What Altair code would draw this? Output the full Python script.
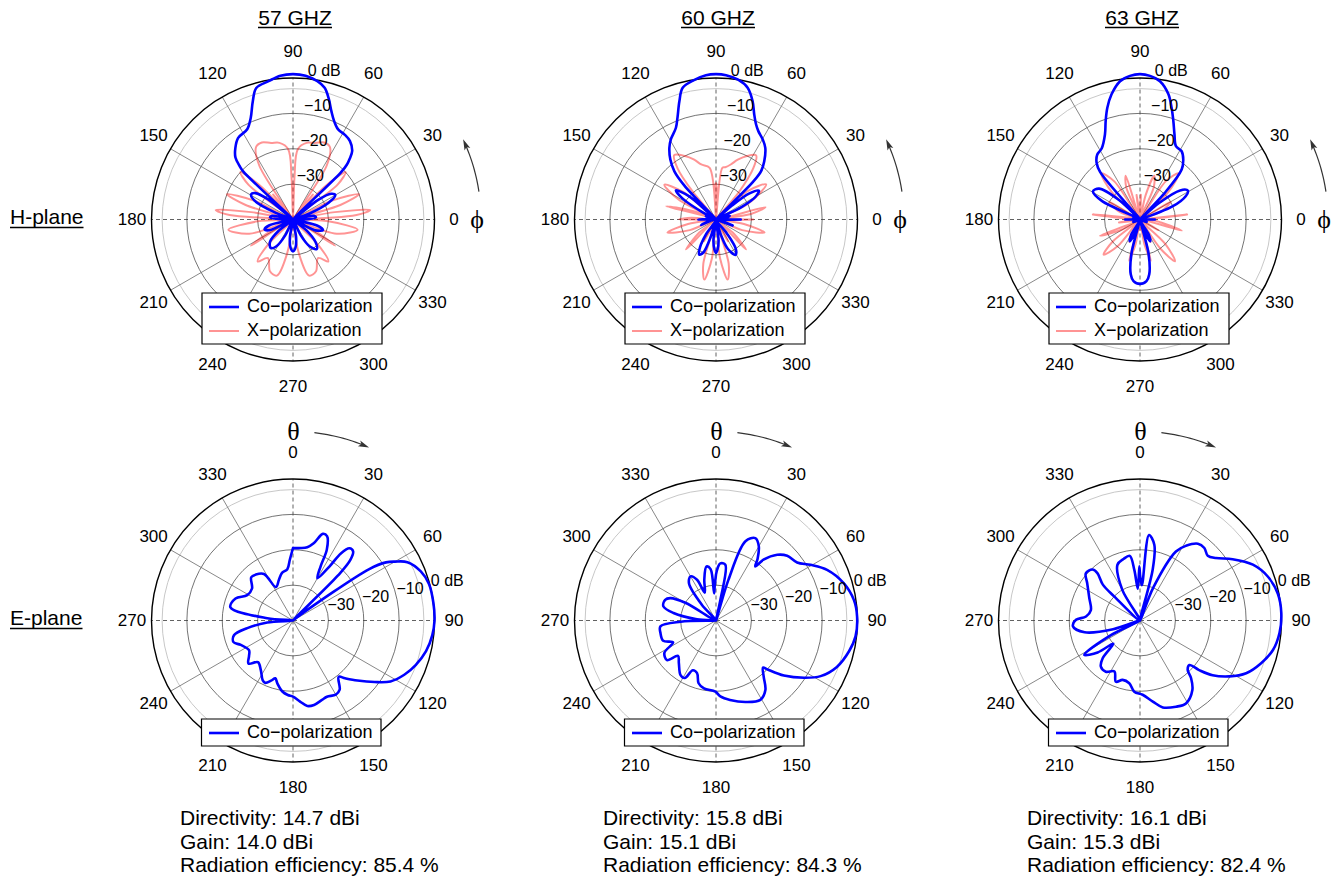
import altair as alt
import numpy as np
import pandas as pd

# ------------------------------------------------------------------
# Data
# ------------------------------------------------------------------
FREQS = ["57 GHZ", "60 GHZ", "63 GHZ"]
DIRECTIVITY = [14.7, 15.8, 16.1]   # dBi
GAIN = [14.0, 15.1, 15.3]          # dBi
EFFICIENCY = [85.4, 84.3, 82.4]    # %

ANGLE_TICKS = list(range(0, 360, 30))
RING_DB = [-30, -20, -10, 0]
RING_TEXT = ["\u221230", "\u221220", "\u221210", "0 dB"]
LEGEND_H = ["Co\u2212polarization", "X\u2212polarization"]
LEGEND_E = ["Co\u2212polarization"]

# H-plane: phi (deg, counter-clockwise, 0 at right), level (dB)
H57_CO_PHI = [0, 5, 10, 15, 20, 25, 30, 34, 38, 41.5, 44.5, 45.5, 47, 49.2, 54, 58.7, 63.4, 67.4, 70.5, 73.7,
              76.5, 80, 85, 90, 95, 100, 105.6, 108.7, 112.6, 116.9, 123.9, 128.8, 132.9, 135, 136, 138, 141, 145, 149, 154,
              159, 165, 170, 175, 180, 187, 194, 199.5, 205, 211, 218, 224, 231.8, 238, 244, 251, 260, 265, 270, 275,
              280, 289, 296, 302, 309, 315, 321, 328, 334, 340.5, 346, 353, 360]
H57_CO_DB = [-37, -33.5, -34, -40, -35, -29, -26.2, -27, -31, -40, -21, -18.3, -16.5, -14.4, -12.6, -11.9, -11.5, -9.8, -7.5, -4.2,
             -1.7, -0.3, 0.8, 1.1, 0.8, -0.3, -1.4, -4.6, -8.9, -11.4, -12.2, -14, -16.1, -18.7, -20.5, -40, -31, -27, -26.2, -28,
             -35, -40, -34, -33.5, -37, -40, -33, -31.5, -33, -40, -35, -31, -29.8, -31, -35, -40, -35, -32, -31, -32,
             -35, -40, -35, -31, -29.3, -31, -35, -40, -33, -31, -33, -40, -37]

H57_X_PHI = [0, 4, 7, 10, 13, 17, 21, 26, 31, 38, 42, 46, 49, 51.5, 54, 58, 63, 68, 74, 80, 86, 88, 90,
             92, 94, 100, 106, 112, 117, 122, 126, 128.5, 131, 134, 138, 142, 149, 154, 159, 163, 167, 170, 173, 176, 180,
             183, 189, 198, 203, 207, 212, 218, 225, 230, 237, 246, 254, 260, 265, 275, 280, 286, 294, 303, 310, 315,
             322, 328, 333, 337, 342, 351, 357, 360]
H57_X_DB = [-40, -22, -18, -28, -40, -26, -20, -28, -40, -24, -20, -27, -40, -31, -40, -22, -17, -16.5, -17.5, -18, -20, -28, -40,
            -28, -20, -18, -17.5, -16.5, -17, -22, -40, -31, -40, -27, -20, -24, -40, -28, -20, -26, -40, -28, -18, -22, -40,
            -30, -21.5, -27, -40, -33, -26, -40, -30, -24.5, -27, -24, -23.5, -30, -40, -40, -30, -23.5, -24, -27, -24.5, -30,
            -40, -26, -33, -40, -27, -21.5, -30, -40]

H60_CO_PHI = [0, 3, 9, 15, 20, 26, 30, 34, 38, 41, 43.5, 45.5, 47, 50.4, 55.5, 59.7, 64.4, 67.2, 70, 72.8,
              76.5, 81, 86, 90, 94, 99, 104.2, 107.2, 110.7, 113.6, 119.4, 123, 127.3, 130.8, 133, 135, 139, 144, 148, 152,
              156, 162, 168, 177, 180, 183, 193, 200, 206, 236, 240, 244.5, 249, 253, 257, 263, 267, 270, 273, 277,
              283, 288, 292, 299, 304, 308, 313, 340, 346, 357, 360]
H60_CO_DB = [-33, -40, -37, -36, -40, -32, -27, -25.4, -28, -34, -40, -25, -21.3, -18.6, -15.4, -13.8, -12.3, -10.8, -8.4, -5,
             -1.7, 0, 0.9, 1.1, 0.9, -0.1, -1.6, -5, -9.2, -11.7, -14, -15.8, -18.7, -22, -27, -40, -30, -26, -29, -36,
             -40, -37, -40, -38, -35, -40, -38, -35.5, -40, -35, -31, -29, -30, -35, -40, -34, -31.5, -30.6, -31.5, -34,
             -40, -35, -31, -28.6, -30, -35, -40, -35, -40, -40, -33]

H60_X_PHI = [0, 4, 9, 14, 19, 26, 35, 42, 46, 50, 54, 58, 64, 70, 75, 80, 83, 86, 88, 90, 92, 94, 97, 105, 110,
             116, 123, 127, 130, 134, 140, 146, 152, 156, 160, 165, 171, 176, 180, 184, 189, 195, 202, 212, 218,
             225, 235, 241, 248, 254, 259, 264, 270, 276, 281, 286, 292, 299, 305, 315, 322, 328, 338, 345, 351, 356, 360]
H60_X_DB = [-29.5, -40, -30, -25.6, -40, -30, -22.7, -28, -40, -30, -22, -18.6, -20, -22, -23.9, -25, -25.3, -40, -32, -29.7,
            -32, -40, -25.3, -23.9, -22, -20, -18.3, -22, -30, -40, -28, -22.4, -28, -40, -33, -25.4, -40, -33, -29.6, -40,
            -32, -25.8, -32, -40, -34, -28, -40, -33, -40, -27, -22.7, -29, -40, -29, -22.7, -27, -40, -33, -40, -28,
            -34, -40, -32, -25.8, -32, -40, -29.5]

H63_CO_PHI = [0, 3, 18, 22, 27, 31, 36, 41, 44, 47, 50.2, 54.2, 58.6, 63.9, 68, 71.3, 74.2, 77.2, 81.8, 86,
              90, 94, 98.2, 102.8, 106.3, 109.2, 112.4, 118.4, 123.3, 127.4, 130, 133, 137, 143, 149, 154, 159, 170, 177, 180,
              183, 200, 235, 240, 245, 250, 253, 256, 260.4, 264, 270, 276, 279.6, 284, 287, 290, 295, 300, 305, 340, 357, 360]
H63_CO_DB = [-35.8, -40, -40, -30, -25.5, -24.2, -26, -33, -40, -30, -21.6, -19.1, -17.4, -16.9, -14, -10.6, -7.2, -3.7, -0.5, 0.7,
             1.1, 0.7, -0.5, -3.7, -7.1, -10.5, -14, -17.2, -18, -19.8, -22.5, -40, -32, -25.5, -24.5, -28, -40, -38, -40, -35.8,
             -40, -38, -40, -35, -33.2, -36, -40, -30, -24.3, -22.5, -21.8, -22.5, -24.3, -30, -40, -36, -33.2, -35, -40, -38, -40, -35.8]

H63_X_PHI = [0, 6, 12, 20, 30, 38, 44, 50, 56, 60, 67, 72, 77, 82, 88, 92, 98, 103, 108, 113, 120, 124, 130, 136, 142,
             150, 160, 168, 174, 180, 188, 194, 202, 209, 214, 219, 224, 230, 236, 245, 250, 255, 260, 265, 270,
             275, 280, 285, 290, 295, 300, 305, 310, 316, 322, 330, 337, 345, 352, 356, 360]
H63_X_DB = [-40, -26.6, -40, -34, -30, -40, -29, -23, -27, -40, -30, -27, -33, -40, -33, -40, -33, -40, -27, -30, -40, -27, -23, -29, -40,
            -30, -34, -40, -26.6, -40, -34, -40, -27.8, -34, -40, -30, -25.7, -30, -40, -33, -40, -28, -33, -40, -37,
            -40, -33, -28, -40, -33, -40, -30, -24.6, -30, -40, -34, -40, -27.8, -34, -36, -40]

# E-plane: theta (deg, clockwise, 0 at top), level (dB), listed in drawing order
E57_CO_TH = [0, 6, 11, 15, 19, 22, 25.5, 27, 30, 34, 35.5, 38, 41, 43.5, 45, 48, 52, 56, 58, 60,
             63, 69, 75, 83, 90, 96, 103, 110, 116, 122, 127, 133, 138, 141, 146, 150, 156, 160, 166, 170.5,
             175, 180, 184, 188.5, 194, 197, 200, 204, 207, 213, 220, 226, 231, 236, 245, 250, 256, 260.5, 265.5, 268,
             275, 282, 291, 299, 308, 316, 321, 328, 333, 341, 347, 353.7, 357, 360]
E57_CO_DB = [-19.5, -19.4, -18.9, -17.4, -14.1, -14.3, -17.8, -22.8, -26.2, -21.6, -16.7, -14.1, -14.1, -16.5, -22, -40, -38, -14, -9, -6.7,
             -3.7, -1.3, -0.2, 0, 0, -0.4, -1.4, -3.1, -5, -7.5, -11.1, -15.1, -18, -19.5, -16.4, -15.8, -16.4, -16.1, -15.4, -15.5,
             -17, -18.5, -18.9, -19.7, -21.7, -22.9, -21.9, -20.7, -21.1, -23.3, -24.6, -22.5, -24, -25, -23.7, -22.1, -22.8, -26.9, -32.7, -40,
             -32.7, -21.9, -22.6, -25.2, -25.3, -23, -23.3, -24.5, -29.4, -27.8, -26.2, -25.4, -22.8, -19.5]

E60_CO_TH = [0, 2, 4.3, 9.5, 12, 14, 17, 20.4, 25.5, 30, 34, 36, 38, 43, 47.7, 54.4, 59.5, 65.5, 73.7, 81.5,
             88.4, 96.5, 103, 111, 118, 123, 129, 133.5, 135, 139.6, 144.6, 150.8, 160, 170, 176.7, 180.5, 190, 195.5, 199.8, 205,
             208.5, 213, 221, 227, 231, 238, 243, 249, 257, 264, 268, 271, 274, 280, 285, 292, 296, 300, 305, 318,
             324, 330, 335, 338, 344, 350, 354, 356, 358, 360]
E60_CO_DB = [-27, -25, -23.8, -24, -34, -40, -28, -16.1, -14.2, -15.8, -19, -21.1, -18.2, -14.6, -12.8, -11.8, -9, -5.5, -2.4, -0.6,
             -0.1, -0.3, -1.4, -3.4, -6.5, -10.3, -15.3, -19.9, -21.2, -19.2, -15.9, -14.3, -15.5, -17.2, -18.5, -19.9, -20.5, -21.6, -24.2, -24.5,
             -21.5, -21.6, -24, -25.3, -22.2, -22.8, -26.4, -24, -23.9, -24.2, -30, -40, -34.6, -27.8, -24.6, -24.5, -25.6, -30, -40, -34,
             -27, -25.6, -27.3, -31.5, -28, -24.5, -25.4, -32.3, -30, -27]

E63_CO_TH = [0, 3, 6, 10.7, 14, 18, 22, 27.5, 31.6, 37, 41.6, 46.3, 50.6, 56.5, 63.7, 71, 79, 87, 95, 102.5,
             109.4, 116.4, 122, 127, 130, 132, 136, 138.5, 143, 151, 157.3, 165.3, 171, 178, 184.6, 189.7, 196.3, 201.5, 206.7, 213.7,
             220.3, 224.7, 229, 233, 238.3, 243, 247, 252, 258, 264.9, 270.6, 274.2, 282, 294, 305, 311, 317, 318, 314, 313,
             318, 330, 338, 345, 351, 353.6, 356, 359.3, 360]
E63_CO_DB = [-27, -30, -15.7, -18.2, -25.2, -40, -30, -18, -15.2, -12.8, -12.6, -13.5, -12.2, -8.6, -4.4, -1.8, -0.3, 0, -0.4, -1.5,
             -3.7, -6.5, -10.2, -14.3, -18.2, -21.2, -20.6, -18.2, -15.4, -13.2, -13.6, -14.6, -16.8, -19, -19.8, -22, -22.5, -21.4, -23.9, -22.6,
             -22.9, -25, -30, -25, -21.5, -30, -40, -32, -24, -21, -21.9, -24.7, -25.8, -24.3, -21.8, -19.7, -20.3, -22, -25.4, -30,
             -40, -30, -23, -22, -21.5, -25.6, -31, -24.7, -27]

# ------------------------------------------------------------------
# Layout (page pixels) and styling
# ------------------------------------------------------------------
W, HGT = 1327, 869
OX, OY = 8, 8
CX = [293.0, 716.0, 1140.0]
CY = {"H": 219.5, "E": 620.5}
R = 141.5
DB_MIN = -40.0
SANS = "Liberation Sans, Arial, Helvetica, sans-serif"
SERIF = "Liberation Serif, DejaVu Serif, Times New Roman, serif"
BLUE = "#0000ff"
PINK = "#ff0000"

XS = alt.Scale(domain=[OX, OX + W], nice=False, zero=False)
YS = alt.Scale(domain=[OY + HGT, OY], nice=False, zero=False)


def enc_xy(**extra):
    d = dict(x=alt.X("x:Q", scale=XS, axis=None), y=alt.Y("y:Q", scale=YS, axis=None))
    d.update(extra)
    return d


def ring_r(db):
    return R * (max(db, DB_MIN) - DB_MIN) / (-DB_MIN)


def polar(cx, cy, r, am):
    t = np.deg2rad(am)
    return cx + r * np.cos(t), cy - r * np.sin(t)


# ---------------- curves ----------------
CURVES = [
    ("H", 0, "x", H57_X_PHI, H57_X_DB), ("H", 0, "co", H57_CO_PHI, H57_CO_DB),
    ("H", 1, "x", H60_X_PHI, H60_X_DB), ("H", 1, "co", H60_CO_PHI, H60_CO_DB),
    ("H", 2, "x", H63_X_PHI, H63_X_DB), ("H", 2, "co", H63_CO_PHI, H63_CO_DB),
    ("E", 0, "co", E57_CO_TH, E57_CO_DB), ("E", 1, "co", E60_CO_TH, E60_CO_DB),
    ("E", 2, "co", E63_CO_TH, E63_CO_DB),
]
rows = []
for plane, col, ser, angs, dbs in CURVES:
    assert len(angs) == len(dbs), (plane, col, ser, len(angs), len(dbs))
    for i, (a, d) in enumerate(zip(angs, dbs)):
        rows.append(dict(key=f"{plane}{col}{ser}", ser=ser, order=i,
                         am=(a if plane == "H" else 90 - a), db=d,
                         cx=CX[col], cy=CY[plane]))
curves = pd.DataFrame(rows)


def curve_layer(ser, color, width, opacity):
    return (alt.Chart(curves[curves["ser"] == ser])
            .transform_calculate(r=f"{R} * (max(datum.db, {DB_MIN}) + {-DB_MIN}) / {-DB_MIN}")
            .transform_calculate(x="datum.cx + datum.r * cos(datum.am * PI / 180)",
                                 y="datum.cy - datum.r * sin(datum.am * PI / 180)")
            .mark_line(interpolate="catmull-rom", color=color, strokeWidth=width, opacity=opacity,
                       strokeJoin="round", strokeCap="round")
            .encode(**enc_xy(detail="key:N", order="order:Q")))


# ---------------- grid ----------------
panels = [(p, c) for p in ("H", "E") for c in range(3)]
ring_rows = []
for p, c in panels:
    ring_rows.append(dict(x=CX[c], y=CY[p], size=(2 * ring_r(-3)) ** 2, kind="light"))
    for d in RING_DB[:3]:
        ring_rows.append(dict(x=CX[c], y=CY[p], size=(2 * ring_r(d)) ** 2, kind="dark"))
    ring_rows.append(dict(x=CX[c], y=CY[p], size=(2 * R) ** 2, kind="outer"))
rings = pd.DataFrame(ring_rows)


def ring_layer(kind, color, width):
    return (alt.Chart(rings[rings["kind"] == kind])
            .mark_point(shape="circle", filled=False, color=color, strokeWidth=width, opacity=1)
            .encode(**enc_xy(size=alt.Size("size:Q", scale=None))))


spoke_rows = []
for p, c in panels:
    for a in ANGLE_TICKS:
        x2, y2 = polar(CX[c], CY[p], R, a)
        spoke_rows.append(dict(x=CX[c], y=CY[p], x2=x2, y2=y2, main=(a % 90 == 0)))
spokes = pd.DataFrame(spoke_rows)


def spoke_layer(main):
    kw = dict(color="#3a3a3a", strokeWidth=0.8, strokeDash=[4, 3]) if main else dict(color="#6a6a6a", strokeWidth=0.8)
    return (alt.Chart(spokes[spokes["main"] == main]).mark_rule(**kw)
            .encode(**enc_xy(x2=alt.X2("x2:Q"), y2=alt.Y2("y2:Q"))))


# ---------------- labels ----------------
lab_rows = []
for p, c in panels:
    for a in ANGLE_TICKS:
        am = a if p == "H" else 90 - a
        t = np.deg2rad(am)
        lab_rows.append(dict(x=CX[c] + 161 * np.cos(t), y=CY[p] - 167.5 * np.sin(t), text=str(a)))
ang_labels = pd.DataFrame(lab_rows)

db_rows = []
for p, c in panels:
    am = 84 if p == "H" else 13
    for d, txt in zip(RING_DB, RING_TEXT):
        x, y = polar(CX[c], CY[p], ring_r(d), am)
        db_rows.append(dict(x=x, y=y, text=txt))
db_labels = pd.DataFrame(db_rows)

# ---------------- legends ----------------
box_rows, leg_line_rows, leg_text_rows = [], [], []
for c in range(3):
    cx, cy = CX[c], CY["H"]
    box_rows.append(dict(x=cx - 91, x2=cx + 89, y=cy + 73.5, y2=cy + 124.5))
    for k, (name, col) in enumerate(zip(LEGEND_H, ["co", "x"])):
        yy = cy + 87.5 + 24 * k
        leg_line_rows.append(dict(x=cx - 84, x2=cx - 54, y=yy, y2=yy, ser=col))
        leg_text_rows.append(dict(x=cx - 46, y=yy, text=name))
    cx, cy = CX[c], CY["E"]
    box_rows.append(dict(x=cx - 91.5, x2=cx + 88, y=cy + 98.5, y2=cy + 125.5))
    yy = cy + 112.5
    leg_line_rows.append(dict(x=cx - 84, x2=cx - 54, y=yy, y2=yy, ser="co"))
    leg_text_rows.append(dict(x=cx - 46, y=yy, text=LEGEND_E[0]))
boxes = pd.DataFrame(box_rows)
leg_lines = pd.DataFrame(leg_line_rows)
leg_texts = pd.DataFrame(leg_text_rows)

# ---------------- arrows (phi / theta) ----------------
arc_rows, head_rows, sym_rows = [], [], []
for c in range(3):
    cx, cy = CX[c], CY["H"]
    for i, am in enumerate(np.linspace(8.5, 23.0, 16)):
        x, y = polar(cx, cy, 188, am)
        arc_rows.append(dict(key=f"H{c}", order=i, x=x, y=y))
    x, y = polar(cx, cy, 188, 23.5)
    head_rows.append(dict(x=x, y=y, rot=360 - 23.5))
    sym_rows.append(dict(x=cx + 184, y=CY["H"], text="\u03d5"))
    cx, cy = CX[c], CY["E"]
    for i, th in enumerate(np.linspace(6.5, 21.5, 16)):
        x, y = polar(cx, cy, 189, 90 - th)
        arc_rows.append(dict(key=f"E{c}", order=i, x=x, y=y))
    x, y = polar(cx, cy, 189, 90 - 22.0)
    head_rows.append(dict(x=x, y=y, rot=22.0 + 90))
    sym_rows.append(dict(x=cx + 0.5, y=cy - 188.5, text="\u03b8"))
arcs = pd.DataFrame(arc_rows)
heads = pd.DataFrame(head_rows)
syms = pd.DataFrame(sym_rows)

# ---------------- titles & info text ----------------
title_rows, side_rows, uline_rows, info_rows = [], [], [], []
for c in range(3):
    title_rows.append(dict(x=CX[c] + 2, y=25, text=FREQS[c]))
    uline_rows.append(dict(x=CX[c] + 2 - 37, x2=CX[c] + 2 + 37, y=27.5, y2=27.5))
    lines = [f"Directivity: {DIRECTIVITY[c]:.1f} dBi", f"Gain: {GAIN[c]:.1f} dBi",
             f"Radiation efficiency: {EFFICIENCY[c]:.1f} %"]
    for k, s in enumerate(lines):
        info_rows.append(dict(x=CX[c] - 113, y=825 + 23.5 * k, text=s))
side_rows = [dict(x=10, y=CY["H"] + 4.8, text="H-plane"), dict(x=10, y=CY["E"] + 4.8, text="E-plane")]
uline_rows += [dict(x=10, x2=83.5, y=CY["H"] + 8, y2=CY["H"] + 8),
               dict(x=10, x2=82.5, y=CY["E"] + 8, y2=CY["E"] + 8)]
titles = pd.DataFrame(title_rows)
sides = pd.DataFrame(side_rows)
ulines = pd.DataFrame(uline_rows)
info = pd.DataFrame(info_rows)

# ---------------- assemble ----------------
layers = [
    ring_layer("light", "#c8c8c8", 1.0),
    ring_layer("dark", "#505050", 0.8),
    spoke_layer(False),
    spoke_layer(True),
    ring_layer("outer", "#000000", 1.4),
    curve_layer("x", PINK, 2.0, 0.42),
    curve_layer("co", BLUE, 2.6, 1.0),
    alt.Chart(boxes).mark_rect(fill="white", stroke="black", strokeWidth=1.2)
    .encode(**enc_xy(x2=alt.X2("x2:Q"), y2=alt.Y2("y2:Q"))),
    alt.Chart(leg_lines[leg_lines["ser"] == "x"]).mark_rule(color=PINK, strokeWidth=2.0, opacity=0.42)
    .encode(**enc_xy(x2=alt.X2("x2:Q"), y2=alt.Y2("y2:Q"))),
    alt.Chart(leg_lines[leg_lines["ser"] == "co"]).mark_rule(color=BLUE, strokeWidth=2.6)
    .encode(**enc_xy(x2=alt.X2("x2:Q"), y2=alt.Y2("y2:Q"))),
    alt.Chart(leg_texts).mark_text(font=SANS, fontSize=18, align="left", baseline="middle", color="black")
    .encode(**enc_xy(text="text:N")),
    alt.Chart(ang_labels).mark_text(font=SANS, fontSize=17, align="center", baseline="middle", color="black")
    .encode(**enc_xy(text="text:N")),
    alt.Chart(db_labels).mark_text(font=SANS, fontSize=16, align="left", baseline="bottom", color="black")
    .encode(**enc_xy(text="text:N")),
    alt.Chart(arcs).mark_line(color="#333333", strokeWidth=1.2)
    .encode(**enc_xy(detail="key:N", order="order:Q")),
    alt.Chart(heads).mark_point(shape="M0,-1L0.55,0.9L0,0.45L-0.55,0.9Z", filled=True, color="#333333",
                                size=130, opacity=1)
    .encode(**enc_xy(angle=alt.Angle("rot:Q", scale=None))),
    alt.Chart(syms).mark_text(font=SERIF, fontSize=26, align="center", baseline="middle", color="black")
    .encode(**enc_xy(text="text:N")),
    alt.Chart(titles).mark_text(font=SANS, fontSize=21, align="center", baseline="alphabetic", color="black")
    .encode(**enc_xy(text="text:N")),
    alt.Chart(sides).mark_text(font=SANS, fontSize=21, align="left", baseline="alphabetic", color="black")
    .encode(**enc_xy(text="text:N")),
    alt.Chart(ulines).mark_rule(color="black", strokeWidth=1.7)
    .encode(**enc_xy(x2=alt.X2("x2:Q"), y2=alt.Y2("y2:Q"))),
    alt.Chart(info).mark_text(font=SANS, fontSize=21, align="left", baseline="alphabetic", color="black")
    .encode(**enc_xy(text="text:N")),
]

chart = (alt.layer(*layers)
         .properties(width=W, height=HGT, autosize=alt.AutoSizeParams(type="none"), padding=0,
                     background="white")
         .configure_view(strokeWidth=0))

chart.save("out.html", embed_options={"renderer": "svg", "actions": False})
